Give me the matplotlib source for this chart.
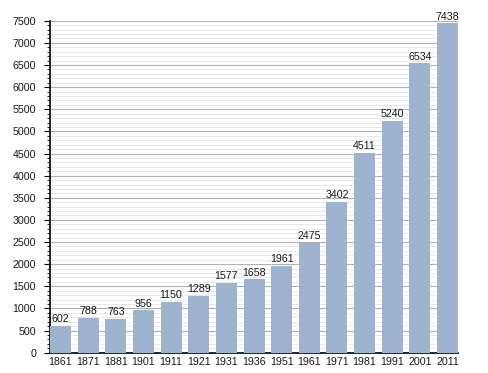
import matplotlib
matplotlib.use("Agg")
import matplotlib.pyplot as plt
from matplotlib.ticker import MultipleLocator

years = ["1861", "1871", "1881", "1901", "1911", "1921", "1931", "1936",
         "1951", "1961", "1971", "1981", "1991", "2001", "2011"]
population = [602, 788, 763, 956, 1150, 1289, 1577, 1658,
              1961, 2475, 3402, 4511, 5240, 6534, 7438]

plt.rcParams['font.family'] = ['Liberation Sans', 'DejaVu Sans']

fig = plt.figure(figsize=(4.88, 3.73), dpi=100)
ax = fig.add_axes([0.1025, 0.0544, 0.836, 0.890])

w = 0.76
x = list(range(len(years)))
bars = ax.bar(x, population, width=w, color="#9db3cf", zorder=3)
for xi, v in zip(x, population):
    ax.text(xi, v + 40, str(v), ha="center", va="bottom", fontsize=7.7,
            color="#1a1a1a", zorder=4)

ax.set_xlim(-w / 2, len(years) - 1 + w / 2)
ax.set_ylim(0, 7500)
ax.set_xticks(x)
ax.set_xticklabels(years, fontsize=7.7, color="#1a1a1a")
ax.tick_params(axis="x", length=0, pad=3)
ax.yaxis.set_major_locator(MultipleLocator(500))
ax.yaxis.set_minor_locator(MultipleLocator(100))
ax.tick_params(axis="y", which="major", length=4, width=0.8, labelsize=7.7,
               pad=6, labelcolor="#1a1a1a")
ax.tick_params(axis="y", which="minor", length=2.5, width=0.6)
ax.grid(axis="y", which="major", color="#b0b0b0", linewidth=0.8, zorder=1)
ax.grid(axis="y", which="minor", color="#e4e4e4", linewidth=0.6, zorder=0)
ax.set_axisbelow(True)
for s in ("top", "right"):
    ax.spines[s].set_visible(False)
ax.spines["left"].set_linewidth(1.2)
ax.spines["bottom"].set_linewidth(1.2)

fig.savefig("out.png", dpi=100)
